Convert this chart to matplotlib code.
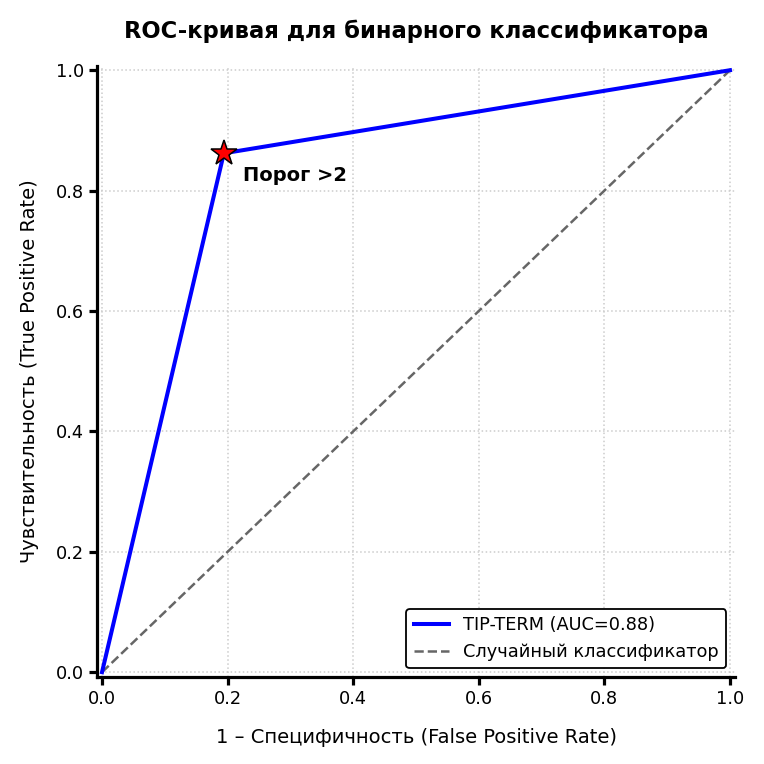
import matplotlib
matplotlib.use('Agg')
import matplotlib.pyplot as plt
import numpy as np

# ROC points
fpr = [0.0, 0.194, 1.0]
tpr = [0.0, 0.862, 1.0]
auc_value = 0.88
thr_fpr = 0.194
thr_tpr = 0.862
diag = [0.0, 1.0]

fig = plt.figure(figsize=(7.64, 7.64), dpi=100)
ax = fig.add_axes([97 / 764, 87 / 764, 638 / 764, 611 / 764])

ax.plot(fpr, tpr, color='blue', linewidth=2.9, label=f'TIP-TERM (AUC={auc_value:.2f})', zorder=3)
ax.plot(diag, diag, color='#666666', linestyle='--', linewidth=1.8, label='Случайный классификатор', zorder=2)
ax.plot(thr_fpr, thr_tpr, marker='*', markersize=19, color='red',
        markeredgecolor='black', markeredgewidth=1.1, zorder=4, linestyle='none')
ax.annotate('Порог >2', xy=(thr_fpr, thr_tpr), xytext=(14, -9), textcoords='offset points',
            fontsize=14, fontweight='bold', ha='left', va='top')

ax.set_xlim(-0.008, 1.008)
ax.set_ylim(-0.008, 1.007)
ax.set_xticks(np.arange(0, 1.01, 0.2))
ax.set_yticks(np.arange(0, 1.01, 0.2))
ax.grid(True, linestyle=':', color='#cccccc', linewidth=1.1)
ax.set_axisbelow(True)

ax.set_title('ROC-кривая для бинарного классификатора', fontsize=16.3, fontweight='bold', pad=20)
ax.set_xlabel('1 – Специфичность (False Positive Rate)', fontsize=14, labelpad=14)
ax.set_ylabel('Чувствительность (True Positive Rate)', fontsize=14, labelpad=12)

ax.spines['top'].set_visible(False)
ax.spines['right'].set_visible(False)
ax.spines['left'].set_linewidth(2.3)
ax.spines['bottom'].set_linewidth(2.3)
ax.tick_params(labelsize=12.8, width=2.3, length=6)

leg = ax.legend(loc='lower right', fontsize=12.8, framealpha=1, fancybox=True)
leg.get_frame().set_edgecolor('black')
leg.get_frame().set_linewidth(1.3)

plt.savefig('out.png', dpi=100, facecolor='white')
